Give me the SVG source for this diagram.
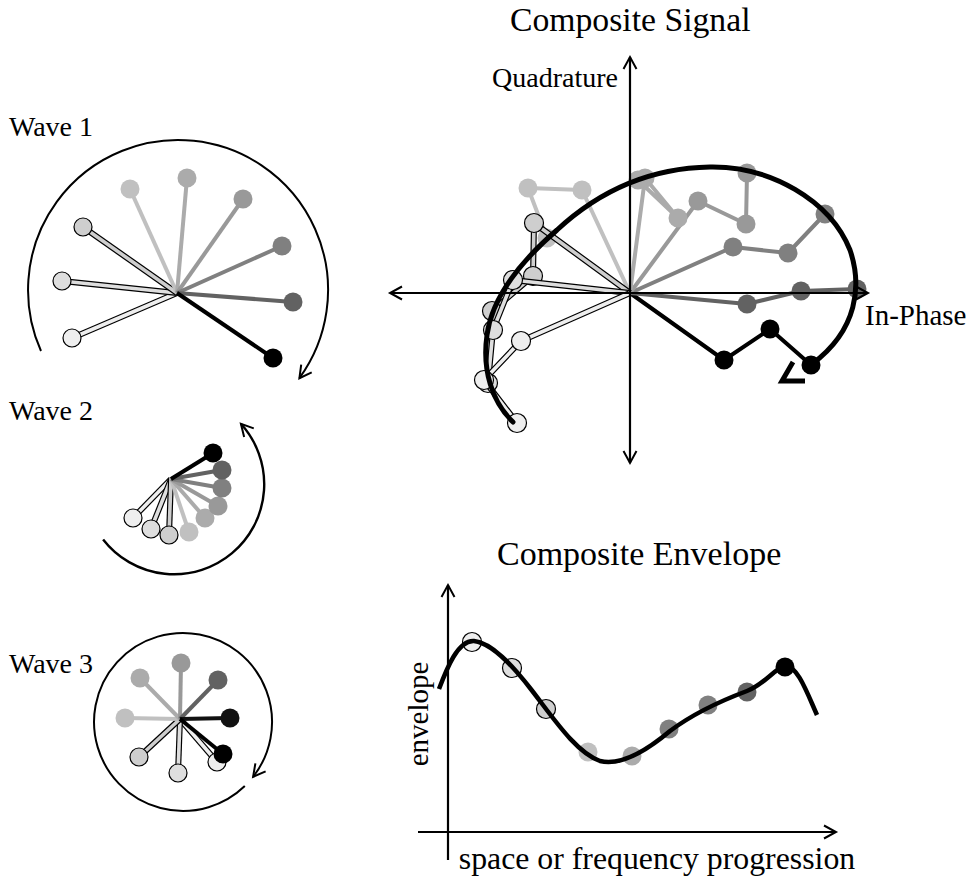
<svg xmlns="http://www.w3.org/2000/svg" width="970" height="883" viewBox="0 0 970 883">
<defs>
<style>
text{font-family:"Liberation Serif","Times New Roman",serif;fill:#000}
.lbl{font-size:28px}
.ttl{font-size:33.7px}
.ax{font-size:29px}
.c1{stroke:#eeeeee;fill:#eeeeee}
.c2{stroke:#dedede;fill:#dedede}
.c3{stroke:#cecece;fill:#cecece}
.c4{stroke:#c0c0c0;fill:#c0c0c0}
.c5{stroke:#ababab;fill:#ababab}
.c6{stroke:#999999;fill:#999999}
.c7{stroke:#808080;fill:#808080}
.c8{stroke:#626262;fill:#626262}
.c9{stroke:#000000;fill:#000000}
.sp{fill:none;stroke-width:4;stroke-linejoin:round;stroke-linecap:butt}
.oo{fill:none;stroke:#000;stroke-width:6;stroke-linejoin:round}
.oi{fill:none;stroke-width:3.6;stroke-linejoin:round}
.od{stroke:#000;stroke-width:1.2}
.nd{stroke:none}
.rot{fill:none;stroke:#000;stroke-width:2}
.axis{fill:none;stroke:#000;stroke-width:2.2}
</style>
<marker id="ah" markerUnits="userSpaceOnUse" markerWidth="20" markerHeight="20" orient="auto" overflow="visible" refX="0" refY="0"><path d="M-12,-6.5 L0,0 L-12,6.5" fill="none" stroke="#000" stroke-width="2"/></marker>
<marker id="ahs" markerUnits="userSpaceOnUse" markerWidth="20" markerHeight="20" orient="auto-start-reverse" overflow="visible" refX="0" refY="0"><path d="M-12,-6.5 L0,0 L-12,6.5" fill="none" stroke="#000" stroke-width="2"/></marker>
</defs>
<rect width="970" height="883" fill="#fff"/>

<g id="wave1">
<text class="lbl" x="9" y="136">Wave 1</text>
<path class="rot" d="M41,351 A150,150 0 1 1 299.4,378.2" marker-end="url(#ah)"/>
<line class="oo" x1="177" y1="293" x2="72" y2="338"/><line class="oi c1" x1="177" y1="293" x2="72" y2="338"/><circle class="c1 od" cx="72" cy="338" r="9"/>
<line class="oo" x1="177" y1="293" x2="62" y2="281"/><line class="oi c2" x1="177" y1="293" x2="62" y2="281"/><circle class="c2 od" cx="62" cy="281" r="9"/>
<line class="oo" x1="177" y1="293" x2="83" y2="227"/><line class="oi c3" x1="177" y1="293" x2="83" y2="227"/><circle class="c3 od" cx="83" cy="227" r="9"/>
<line class="sp c4" x1="177" y1="293" x2="130" y2="189"/><circle class="c4 nd" cx="130" cy="189" r="9.5"/>
<line class="sp c5" x1="177" y1="293" x2="187" y2="178"/><circle class="c5 nd" cx="187" cy="178" r="9.5"/>
<line class="sp c6" x1="177" y1="293" x2="243" y2="199"/><circle class="c6 nd" cx="243" cy="199" r="9.5"/>
<line class="sp c7" x1="177" y1="293" x2="282" y2="246"/><circle class="c7 nd" cx="282" cy="246" r="9.5"/>
<line class="sp c8" x1="177" y1="293" x2="293" y2="302"/><circle class="c8 nd" cx="293" cy="302" r="9.5"/>
<line class="sp c9" x1="177" y1="293" x2="273" y2="358"/><circle class="c9 nd" cx="273" cy="358" r="9.5"/>
</g>

<g id="wave2">
<text class="lbl" x="9" y="420">Wave 2</text>
<path class="rot" d="M103.1,539.4 A90,90 0 1 0 240.9,423.8" style="stroke-width:2.4" marker-end="url(#ah)"/>
<line class="oo" x1="171" y1="479" x2="133" y2="518"/><line class="oi c1" x1="171" y1="479" x2="133" y2="518"/><circle class="c1 od" cx="133" cy="518" r="9"/>
<line class="oo" x1="171" y1="479" x2="151" y2="529"/><line class="oi c2" x1="171" y1="479" x2="151" y2="529"/><circle class="c2 od" cx="151" cy="529" r="9"/>
<line class="oo" x1="171" y1="479" x2="169" y2="535"/><line class="oi c3" x1="171" y1="479" x2="169" y2="535"/><circle class="c3 od" cx="169" cy="535" r="9"/>
<line class="sp c4" x1="171" y1="479" x2="189" y2="532"/><circle class="c4 nd" cx="189" cy="532" r="9.5"/>
<line class="sp c5" x1="171" y1="479" x2="205" y2="518"/><circle class="c5 nd" cx="205" cy="518" r="9.5"/>
<line class="sp c6" x1="171" y1="479" x2="218" y2="506"/><circle class="c6 nd" cx="218" cy="506" r="9.5"/>
<line class="sp c7" x1="171" y1="479" x2="222" y2="488"/><circle class="c7 nd" cx="222" cy="488" r="9.5"/>
<line class="sp c8" x1="171" y1="479" x2="222" y2="470"/><circle class="c8 nd" cx="222" cy="470" r="9.5"/>
<line class="sp c9" x1="171" y1="479" x2="213" y2="453"/><circle class="c9 nd" cx="213" cy="453" r="9.5"/>
</g>

<g id="wave3">
<text class="lbl" x="9" y="673">Wave 3</text>
<path class="rot" d="M244.8,786 A89,89 0 1 1 253.1,776.8" marker-end="url(#ah)"/>
<line class="oo" x1="180" y1="719" x2="217" y2="762"/><line class="oi c1" x1="180" y1="719" x2="217" y2="762"/><circle class="c1 od" cx="217" cy="762" r="9"/>
<line class="oo" x1="180" y1="719" x2="178" y2="773"/><line class="oi c2" x1="180" y1="719" x2="178" y2="773"/><circle class="c2 od" cx="178" cy="773" r="9"/>
<line class="oo" x1="180" y1="719" x2="139" y2="757"/><line class="oi c3" x1="180" y1="719" x2="139" y2="757"/><circle class="c3 od" cx="139" cy="757" r="9"/>
<line class="sp c4" x1="180" y1="719" x2="125" y2="718"/><circle class="c4 nd" cx="125" cy="718" r="9.5"/>
<line class="sp c5" x1="180" y1="719" x2="140" y2="678"/><circle class="c5 nd" cx="140" cy="678" r="9.5"/>
<line class="sp c6" x1="180" y1="719" x2="181" y2="663"/><circle class="c6 nd" cx="181" cy="663" r="9.5"/>
<line class="sp c8" x1="180" y1="719" x2="218" y2="680"/><circle class="c8 nd" cx="218" cy="680" r="9.5"/>
<line class="sp" style="stroke:#111" x1="180" y1="719" x2="230" y2="718"/><circle fill="#111" cx="230" cy="718" r="9.5"/>
<line class="sp c9" x1="180" y1="719" x2="223" y2="754"/><circle class="c9 nd" cx="223" cy="754" r="9.5"/>
</g>

<g id="composite-signal">
<text class="ttl" x="510" y="31">Composite Signal</text>
<text class="ax" x="492" y="87" style="font-size:28px">Quadrature</text>
<text class="ax" x="865" y="325">In-Phase</text>
<g id="chains">
<polyline class="sp c9" points="630,293 724,360 770,329 811,365"/>
<circle class="c9 nd" cx="724" cy="360" r="9.5"/><circle class="c9 nd" cx="770" cy="329" r="9.5"/><circle class="c9 nd" cx="811" cy="365" r="9.5"/>
<polyline class="sp c8" points="630,293 747,304 801,291 857,289"/>
<circle class="c8 nd" cx="747" cy="304" r="9.5"/><circle class="c8 nd" cx="801" cy="291" r="9.5"/><circle class="c8 nd" cx="857" cy="289" r="9.5"/>
<polyline class="sp c7" points="630,293 733,247 788,253 825,214"/>
<circle class="c7 nd" cx="733" cy="247" r="9.5"/><circle class="c7 nd" cx="788" cy="253" r="9.5"/><circle class="c7 nd" cx="825" cy="214" r="9.5"/>
<polyline class="sp c6" points="630,293 698,201 746,224 747,173"/>
<circle class="c6 nd" cx="698" cy="201" r="9.5"/><circle class="c6 nd" cx="746" cy="224" r="9.5"/><circle class="c6 nd" cx="747" cy="173" r="9.5"/>
<polyline class="sp c5" points="630,293 645,178 678,218 638,180"/>
<circle class="c5 nd" cx="645" cy="178" r="9.5"/><circle class="c5 nd" cx="678" cy="218" r="9.5"/><circle class="c5 nd" cx="638" cy="180" r="9.5"/>
<polyline class="sp c4" points="630,293 582,190 528,188 547,238"/>
<circle class="c4 nd" cx="582" cy="190" r="9.5"/><circle class="c4 nd" cx="528" cy="188" r="9.5"/><circle class="c4 nd" cx="547" cy="238" r="9.5"/>
<polyline class="oo" points="630,293 534,223 533,276 492,311"/><polyline class="oi c3" points="630,293 534,223 533,276 492,311"/>
<circle class="c3 od" cx="534" cy="223" r="9.5"/><circle class="c3 od" cx="533" cy="276" r="9.5"/><circle class="c3 od" cx="492" cy="311" r="9.5"/>
<polyline class="oo" points="630,293 513,280 493,330 488,383"/><polyline class="oi c2" points="630,293 513,280 493,330 488,383"/>
<circle class="c2 od" cx="513" cy="280" r="9.5"/><circle class="c2 od" cx="493" cy="330" r="9.5"/><circle class="c2 od" cx="488" cy="383" r="9.5"/>
<polyline class="oo" points="630,293 521,341 484,380 517,423"/><polyline class="oi c1" points="630,293 521,341 484,380 517,423"/>
<circle class="c1 od" cx="521" cy="341" r="9.5"/><circle class="c1 od" cx="484" cy="380" r="9.5"/><circle class="c1 od" cx="517" cy="423" r="9.5"/>
</g>
<g id="iq-axes">
<line class="axis" x1="390" y1="293" x2="868" y2="293" marker-start="url(#ahs)" marker-end="url(#ah)"/>
<line class="axis" x1="630" y1="463" x2="630" y2="57" marker-start="url(#ahs)" marker-end="url(#ah)"/>
</g>
<path d="M513,422 C492,402 482,370 487,335 C492,297 520,262 557,230 C598,192 648,168 710,167 C770,166 830,200 850,250 C862,285 858,330 812,364" fill="none" stroke="#000" stroke-width="5" stroke-linecap="round"/>
<polyline points="793,362 782,381 805,381" fill="none" stroke="#000" stroke-width="5" stroke-linejoin="miter"/>
</g>

<g id="envelope">
<text class="ttl" x="497" y="565" style="font-size:34px">Composite Envelope</text>
<text class="ax" transform="translate(428,714) rotate(-90)" text-anchor="middle">envelope</text>
<text class="ax" x="657" y="869" text-anchor="middle" style="font-size:31.8px">space or frequency progression</text>
<line class="axis" x1="448" y1="860" x2="448" y2="585" marker-end="url(#ah)"/>
<line class="axis" x1="418" y1="832" x2="836" y2="832" marker-end="url(#ah)"/>
<circle class="c1 od" cx="472" cy="642" r="9.5"/>
<circle class="c2 od" cx="512" cy="668" r="9.5"/>
<circle class="c3 od" cx="546" cy="709" r="9.5"/>
<circle class="c4 nd" cx="588" cy="752" r="9.5"/>
<circle class="c5 nd" cx="632" cy="756" r="9.5"/>
<circle class="c7 nd" cx="669" cy="729" r="9.5"/>
<circle class="c7 nd" cx="708" cy="705" r="9.5"/>
<circle class="c8 nd" cx="747" cy="692" r="9.5"/>
<path d="M439,689 C447,668 458,640 474,641 C492,643 512,665 530,688 C552,716 575,752 600,761 C620,766 645,752 670,731 C690,716 715,703 747,691 C765,684 775,668 785,666 C797,664 808,695 817,715" fill="none" stroke="#000" stroke-width="4.5"/>
<circle class="c9 nd" cx="785" cy="667" r="9.5"/>
</g>
</svg>
